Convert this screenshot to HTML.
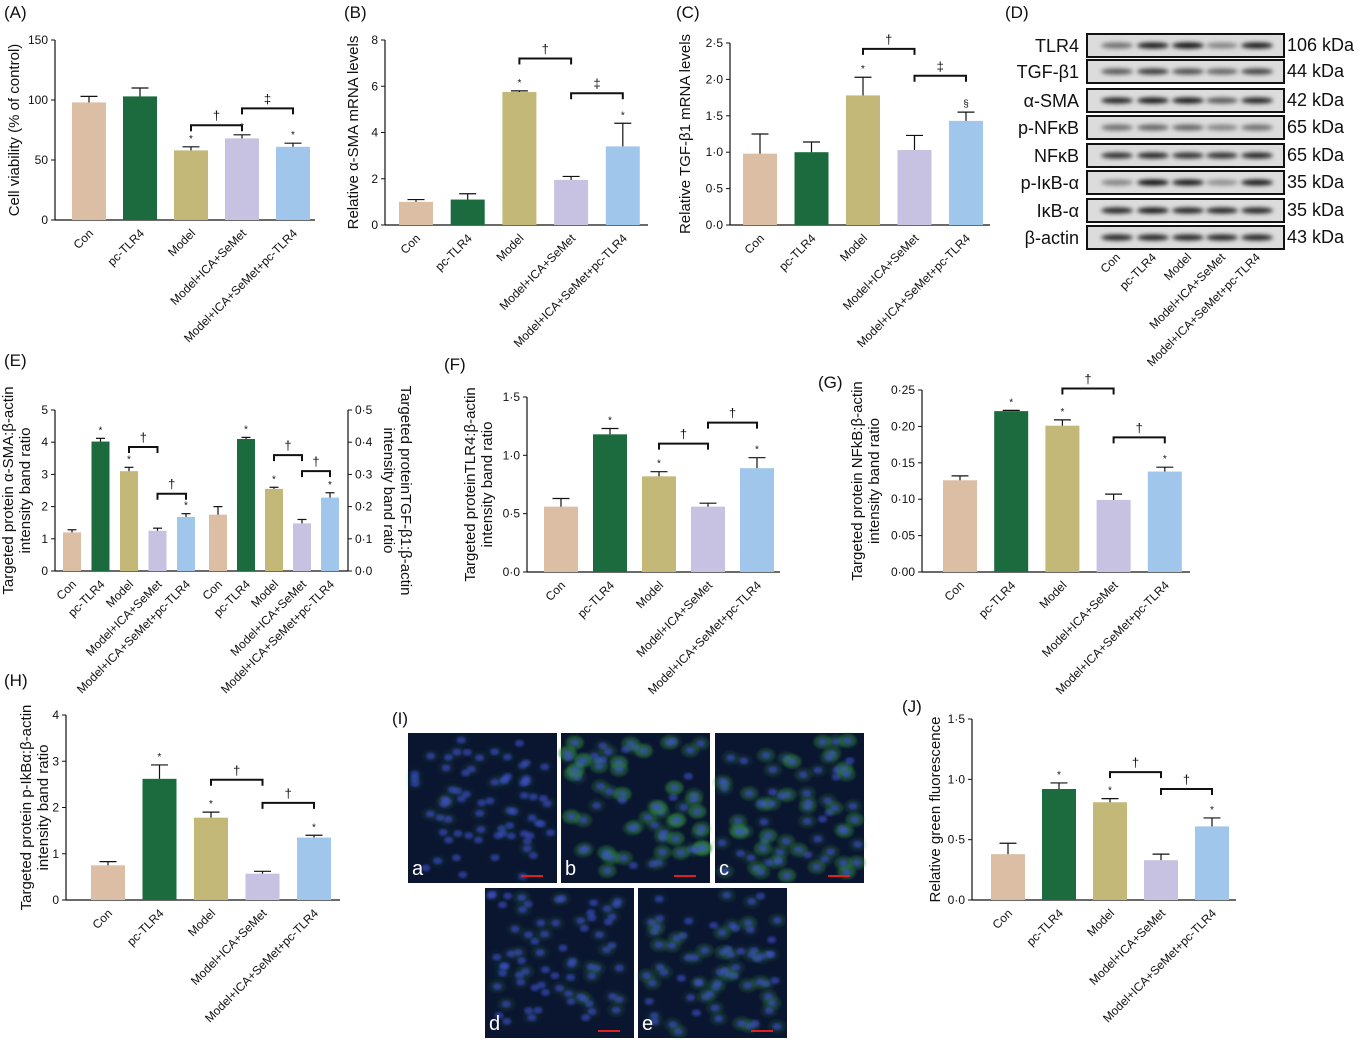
<!DOCTYPE html>
<html><head><meta charset="utf-8"><style>
body{margin:0;background:#fff}
svg{display:block;font-family:"Liberation Sans",Arial,sans-serif}
</style></head><body>
<svg id="fig" width="1369" height="1047" viewBox="0 0 1369 1047" xmlns="http://www.w3.org/2000/svg">
<defs><filter id="blur" x="-50%" y="-100%" width="200%" height="300%"><feGaussianBlur stdDeviation="2"/></filter>
<filter id="blur2"><feGaussianBlur stdDeviation="1.2"/></filter></defs>
</svg>
<script>
const cats=["Con","pc-TLR4","Model","Model+ICA+SeMet","Model+ICA+SeMet+pc-TLR4"];
const colors=["#dcbea5","#1b6b3e","#c3b878","#c8c2e2","#a0c6ec"];
const aVals=[98,103,58,68,61], aErr=[5,7,3,3,3], aTicks=[0,50,100,150];
const bVals=[1.0,1.1,5.75,1.95,3.4], bErr=[0.1,0.25,0.05,0.15,1.0], bTicks=[0,2,4,6,8];
const cVals=[0.98,1.0,1.78,1.03,1.43], cErr=[0.27,0.14,0.25,0.2,0.12], cTicks=[0,0.5,1,1.5,2,2.5];
const e1Vals=[1.2,4.02,3.1,1.25,1.68], e1Err=[0.08,0.1,0.12,0.08,0.1], e1Ticks=[0,1,2,3,4,5];
const e2Vals=[0.175,0.41,0.255,0.148,0.228], e2Err=[0.025,0.005,0.005,0.012,0.015], e2Ticks=[0,0.1,0.2,0.3,0.4,0.5];
const fVals=[0.56,1.18,0.82,0.56,0.89], fErr=[0.07,0.05,0.04,0.03,0.09], fTicks=[0,0.5,1,1.5];
const gVals=[0.126,0.221,0.201,0.099,0.138], gErr=[0.006,0.001,0.008,0.008,0.006], gTicks=[0,0.05,0.1,0.15,0.2,0.25];
const hVals=[0.75,2.62,1.78,0.57,1.35], hErr=[0.08,0.3,0.12,0.05,0.05], hTicks=[0,1,2,3,4];
const jVals=[0.38,0.92,0.81,0.33,0.61], jErr=[0.09,0.05,0.03,0.05,0.07], jTicks=[0,0.5,1,1.5];
const blotRows=["TLR4","TGF-β1","α-SMA","p-NFκB","NFκB","p-IκB-α","IκB-α","β-actin"];
const blotKda=["106 kDa","44 kDa","42 kDa","65 kDa","65 kDa","35 kDa","35 kDa","43 kDa"];
const blotInt=[[0.5,0.9,0.95,0.4,0.9],[0.6,0.75,0.65,0.55,0.7],[0.85,0.9,0.9,0.6,0.85],[0.5,0.55,0.55,0.4,0.5],[0.8,0.85,0.8,0.8,0.85],[0.4,0.95,0.9,0.35,0.9],[0.85,0.9,0.85,0.85,0.85],[0.85,0.85,0.85,0.85,0.85]];

const svg=document.getElementById('fig');
const NS="http://www.w3.org/2000/svg";
function el(tag,attrs,parent,text){const e=document.createElementNS(NS,tag);for(const k in attrs)e.setAttribute(k,attrs[k]);if(text!==undefined)e.textContent=text;(parent||svg).appendChild(e);return e;}
function fmt(v,dp){return v.toFixed(dp).replace('.','·');}
function txt(x,y,s,size,anchor,parent,name,rot){const t=el('text',{x:x,y:y,'font-size':size,'text-anchor':anchor||'start',fill:'#111'},parent,s);if(rot!==undefined)t.setAttribute('transform','rotate('+rot+' '+x+' '+y+')');return t;}

function panel(c){
  const g=el('g',{});
  
  
  const max=c.ticks[c.ticks.length-1];
  const y=v=>c.y0-v/max*(c.y0-c.yTop);
  const xc=i=>c.x1+i*c.step;
  const axX=c.ax;
  const ax=el('line',{x1:axX,y1:c.y0,x2:axX,y2:c.yTop,stroke:'#111','stroke-width':1.2},g);
  
  
  if(!c.noX){const xa=el('line',{x1:c.ax,y1:c.y0,x2:c.xEnd,y2:c.y0,stroke:'#111','stroke-width':1.2},g);
  
  }
  c.ticks.forEach(t=>{const ty=y(t);const d=c.right?4:-4;
    el('line',{x1:axX,y1:ty,x2:axX+d,y2:ty,stroke:'#111'},g);
    txt(axX+(c.right?7:-7),ty+4,c.dp===0?String(t):fmt(t,c.dp),12,c.right?'start':'end',g,'y-tick-label');});
  c.vals.forEach((v,i)=>{
    const b=el('rect',{x:xc(i)-c.bw/2,y:y(v),width:c.bw,height:c.y0-y(v),fill:colors[i]},g);
    
    
    const et=y(v+c.errs[i]);
    el('line',{x1:xc(i),y1:y(v),x2:xc(i),y2:et,stroke:'#111','stroke-width':1.2},g);
    el('line',{x1:xc(i)-c.bw/4,y1:et,x2:xc(i)+c.bw/4,y2:et,stroke:'#111','stroke-width':1.2},g);
    if(c.stars&&c.stars[i])txt(xc(i),et-5,c.stars[i],10,'middle',g,'significance-star');
    txt(xc(i)+5,c.y0+14,cats[i],12,'end',g,'x-tick-label',-45);
  });
  (c.brackets||[]).forEach(br=>{
    const [i,j,val,sym]=br;const by=y(val);
    const l=el('path',{d:`M${xc(i)} ${by+6}V${by}H${xc(j)}V${by+6}`,stroke:'#111','stroke-width':2,fill:'none'},g);
    
    
    txt((xc(i)+xc(j))/2,by-5,sym,13,'middle',g,'bracket-symbol');
  });
  if(c.title){const tx=c.titleX, ty=(c.y0+c.yTop)/2;
    c.title.forEach((s,k)=>txt(tx+k*(c.right?-17:17),ty,s,15,'middle',g,'y-axis-title',c.right?90:-90));}
}

[["(A)",4,18],["(B)",344,18],["(C)",676,18],["(D)",1005,18],["(E)",4,366],["(F)",444,370],["(G)",818,388],["(H)",4,686],["(I)",392,724],["(J)",902,712]].forEach(p=>txt(p[1],p[2],p[0],17,'start',svg,'panel-letter'));

panel({name:'panel-a',ax:55,y0:220,yTop:40,xEnd:315,x1:89,step:51,bw:34,vals:aVals,errs:aErr,ticks:aTicks,dp:0,title:['Cell viability (% of control)'],titleX:19,stars:[0,0,'*','*','*'],brackets:[[2,3,79,'†'],[3,4,93,'‡']]});
panel({name:'panel-b',ax:385,y0:225,yTop:40,xEnd:648,x1:416,step:51.7,bw:34,vals:bVals,errs:bErr,ticks:bTicks,dp:0,title:['Relative α-SMA mRNA levels'],titleX:358,stars:[0,0,'*',0,'*'],brackets:[[2,3,7.2,'†'],[3,4,5.7,'‡']]});
panel({name:'panel-c',ax:730,y0:225,yTop:43,xEnd:990,x1:760,step:51.5,bw:34,vals:cVals,errs:cErr,ticks:cTicks,dp:1,title:['Relative TGF-β1 mRNA levels'],titleX:690,stars:[0,0,'*',0,'§'],brackets:[[2,3,2.42,'†'],[3,4,2.05,'‡']]});
panel({name:'panel-e-left',ax:55,y0:571,yTop:410,xEnd:348,x1:72,step:28.5,bw:18,vals:e1Vals,errs:e1Err,ticks:e1Ticks,dp:0,title:['Targeted protein α-SMA:β-actin','intensity band ratio'],titleX:13,stars:[0,'*','*',0,'*'],brackets:[[2,3,3.85,'†'],[3,4,2.4,'†']]});
panel({name:'panel-e-right',right:true,noX:true,ax:348,y0:571,yTop:410,xEnd:348,x1:218,step:28,bw:18,vals:e2Vals,errs:e2Err,ticks:e2Ticks,dp:1,title:['Targeted proteinTGF-β1:β-actin','intensity band ratio'],titleX:401,stars:[0,'*','*',0,'*'],brackets:[[2,3,0.36,'†'],[3,4,0.31,'†']]});
panel({name:'panel-f',ax:527,y0:572,yTop:397,xEnd:780,x1:561,step:49,bw:34,vals:fVals,errs:fErr,ticks:fTicks,dp:1,title:['Targeted proteinTLR4:β-actin','intensity band ratio'],titleX:475,stars:[0,'*','*',0,'*'],brackets:[[2,3,1.1,'†'],[3,4,1.28,'†']]});
panel({name:'panel-g',ax:922,y0:572,yTop:390,xEnd:1190,x1:960,step:51.2,bw:34,vals:gVals,errs:gErr,ticks:gTicks,dp:2,title:['Targeted protein NFkB:β-actin','intensity band ratio'],titleX:862,stars:[0,'*','*',0,'*'],brackets:[[2,3,0.252,'†'],[3,4,0.185,'†']]});
panel({name:'panel-h',ax:66,y0:900,yTop:715,xEnd:340,x1:108,step:51.5,bw:34,vals:hVals,errs:hErr,ticks:hTicks,dp:0,title:['Targeted protein p-IkBα:β-actin','intensity band ratio'],titleX:31,stars:[0,'*','*',0,'*'],brackets:[[2,3,2.6,'†'],[3,4,2.1,'†']]});
panel({name:'panel-j',ax:972,y0:900,yTop:719,xEnd:1236,x1:1008,step:51,bw:34,vals:jVals,errs:jErr,ticks:jTicks,dp:1,title:['Relative green fluorescence'],titleX:940,stars:[0,'*','*',0,'*'],brackets:[[2,3,1.06,'†'],[3,4,0.92,'†']]});

(function(){
  const g=el('g',{});
  
  
  const lanes=[1117,1153,1188,1222,1257];
  const rowY=[34,60,89,116,144,171,199,226];
  blotRows.forEach((r,k)=>{
    const yy=rowY[k];
    const st=el('rect',{x:1087,y:yy,width:197,height:23,fill:'#dcdcdc',stroke:'#111','stroke-width':2},g);
    
    
    blotInt[k].forEach((v,i)=>{el('ellipse',{cx:lanes[i],cy:yy+11.5,rx:16,ry:3,fill:'#000','fill-opacity':v,filter:'url(#blur)'},g);});
    txt(1079,yy+18,r,18,'end',g,'blot-row-label');
    txt(1287,yy+17,blotKda[k],18,'start',g,'blot-kda-label');
  });
  ['Con','pc-TLR4','Model','Model+ICA+SeMet','Model+ICA+SeMet+pc-TLR4'].forEach((s,i)=>txt(lanes[i]+4,258,s,12,'end',g,'blot-lane-label',-45));
})();

(function(){
  const tiles=[["a",408,733],["b",561,733],["c",715,733],["d",485,888],["e",638,888]];
  const green=[0.05,0.3,0.25,0.08,0.15];
  let s=12345;const rnd=()=>{s=(s*1103515245+12345)%2147483648;return s/2147483648;};
  tiles.forEach((t,k)=>{
    const g=el('g',{});
    
    
    el('rect',{x:t[1],y:t[2],width:149,height:150,fill:'#0a1530'},g);
    for(let n=0;n<70;n++){
      const x=t[1]+6+rnd()*137,y=t[2]+6+rnd()*138;
      el('ellipse',{cx:x,cy:y,rx:9,ry:7,fill:'#2f8a3a','fill-opacity':green[k]*rnd()*2,filter:'url(#blur2)'},g);
      el('ellipse',{cx:x,cy:y,rx:4.5,ry:3.5,fill:'#3f4fd0','fill-opacity':0.6,filter:'url(#blur2)'},g);
    }
    const lt=txt(t[1]+4,t[2]+142,t[0],20,'start',g,'image-label');lt.setAttribute('fill','#fff');
    el('line',{x1:t[1]+113,y1:t[2]+143,x2:t[1]+135,y2:t[2]+143,stroke:'#e02020','stroke-width':2},g);
  });
})();
</script>
</body></html>
